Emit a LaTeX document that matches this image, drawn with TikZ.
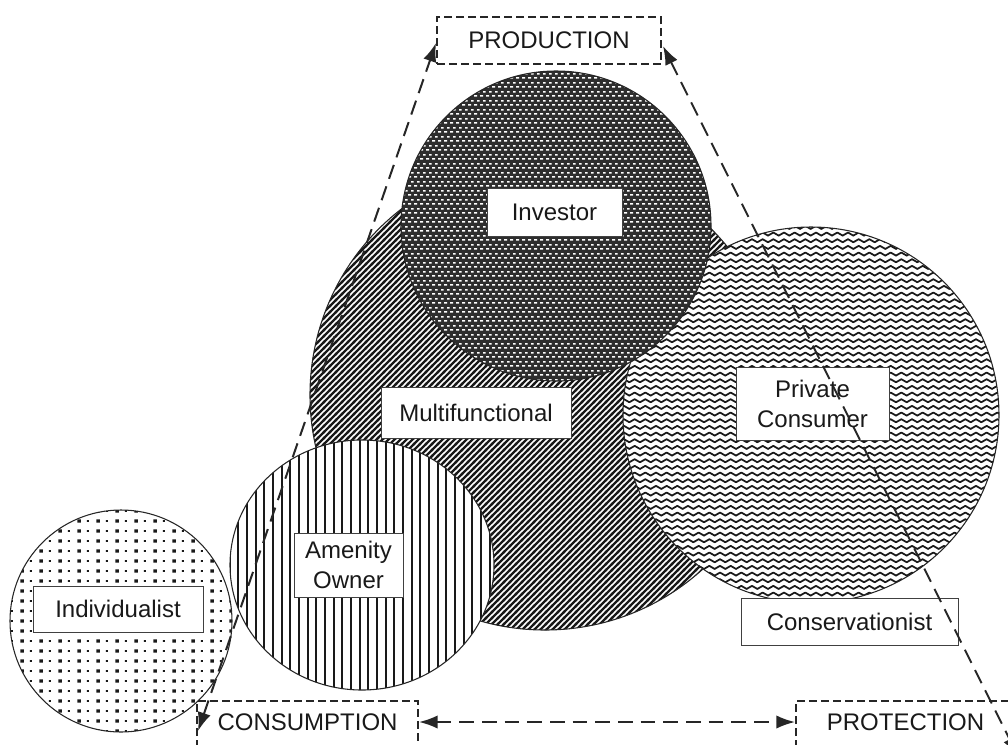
\documentclass[tikz,border=0pt]{standalone}
\usepackage{fontspec}
\setmainfont{Liberation Sans}
\usetikzlibrary{patterns,arrows.meta}

% diagonal lines (Multifunctional)
\pgfdeclarepatternformonly{mflines}{\pgfpoint{-1pt}{-1pt}}{\pgfpoint{5.5pt}{5.5pt}}{\pgfpoint{4.5pt}{4.5pt}}{%
  \pgfsetlinewidth{1.6pt}%
  \pgfpathmoveto{\pgfpoint{-1pt}{-1pt}}\pgfpathlineto{\pgfpoint{5.5pt}{5.5pt}}\pgfusepath{stroke}}
% staggered short dashes (Investor)
\pgfdeclarepatternformonly{idash}{\pgfpointorigin}{\pgfpoint{4.8pt}{6.4pt}}{\pgfpoint{4.8pt}{6.4pt}}{%
  \pgfpathrectangle{\pgfpoint{0.2pt}{1.0pt}}{\pgfpoint{2.3pt}{1.2pt}}%
  \pgfpathrectangle{\pgfpoint{2.6pt}{4.2pt}}{\pgfpoint{2.1pt}{1.2pt}}%
  \pgfusepath{fill}}
% zigzag waves (Private Consumer)
\pgfdeclarepatternformonly{zwaves}{\pgfpoint{-0.7pt}{0pt}}{\pgfpoint{8.7pt}{5pt}}{\pgfpoint{8pt}{5pt}}{%
  \pgfsetlinewidth{1.3pt}\pgfsetroundjoin\pgfsetroundcap
  \pgfpathmoveto{\pgfpoint{0pt}{1.3pt}}\pgfpathlineto{\pgfpoint{4pt}{3.6pt}}\pgfpathlineto{\pgfpoint{8pt}{1.3pt}}%
  \pgfusepath{stroke}}
% vertical lines (Amenity Owner)
\pgfdeclarepatternformonly{vlines}{\pgfpoint{0pt}{-1pt}}{\pgfpoint{6.5pt}{1pt}}{\pgfpoint{6.5pt}{2pt}}{%
  \pgfpathrectangle{\pgfpoint{2.5pt}{-1pt}}{\pgfpoint{1.5pt}{2pt}}\pgfusepath{fill}}
% dots (Individualist)
\pgfdeclarepatternformonly{sqdots}{\pgfpointorigin}{\pgfpoint{14pt}{7.5pt}}{\pgfpoint{14pt}{7.5pt}}{%
  \pgfpathrectangle{\pgfpoint{1pt}{2pt}}{\pgfpoint{2.7pt}{2.7pt}}%
  \pgfpathrectangle{\pgfpoint{8.2pt}{2.5pt}}{\pgfpoint{1.6pt}{1.6pt}}%
  \pgfusepath{fill}}

\begin{document}
\begin{tikzpicture}[x=0.75pt,y=-0.75pt,
  lbl/.style={draw=black!75, line width=0.6pt, fill=white, text=black!90,
    font=\fontsize{18}{22.5}\selectfont, align=center, inner sep=0pt},
  captxt/.style={text=black!90, font=\fontsize{18}{22.5}\selectfont, inner sep=0pt},
  dbox/.style={draw=black!85, line width=0.9pt, dash pattern=on 6pt off 3pt},
  darrow/.style={draw=black!85, line width=1.5pt, dash pattern=on 11pt off 6pt,
    {Latex[length=14pt,width=10pt]}-{Latex[length=14pt,width=10pt]}},
  outl/.style={draw=black!85, line width=0.8pt}]
\useasboundingbox (0,0) rectangle (1008,744);
\clip (0,0) rectangle (1008,744);

% Multifunctional
\path[pattern=mflines, pattern color=black!90] (545,395) circle [radius=235];
\draw[outl] (545,395) circle [radius=235];
% Private Consumer
\fill[white] (811,415) circle [radius=188];
\path[pattern=zwaves, pattern color=black!90] (811,415) circle [radius=188];
\draw[outl] (811,415) circle [radius=188];
% Investor
\fill[black!82] (556,226) circle [radius=155];
\path[pattern=idash, pattern color=white] (556,226) circle [radius=155];
\draw[outl] (556,226) circle [radius=155];
% Amenity Owner
\fill[white] (362,565) ellipse [x radius=132, y radius=125];
\path[pattern=vlines, pattern color=black!90] (362,565) ellipse [x radius=132, y radius=125];
\draw[outl] (362,565) ellipse [x radius=132, y radius=125];
% Individualist
\fill[white] (121,621) circle [radius=111];
\path[pattern=sqdots, pattern color=black!90] (121,621) circle [radius=111];
\draw[outl] (121,621) circle [radius=111];

% labels
\node[lbl, minimum width=101.25pt, minimum height=36pt] (inv) at (554.5,212) {Investor};
\node[lbl, minimum width=142.5pt, minimum height=38.25pt] (multi) at (476,412.5) {Multifunctional};
\node[lbl, minimum width=114.75pt, minimum height=54.75pt] (priv) at (812.5,403.5) {Private\\Consumer};
\node[lbl, minimum width=81.75pt, minimum height=48pt] (amen) at (348.5,565) {Amenity\\Owner};
\node[lbl, minimum width=127.5pt, minimum height=34.5pt] (indiv) at (118,609) {Individualist};
\node[lbl, minimum width=162.75pt, minimum height=35.25pt] (cons) at (849.5,621.5) {Conservationist};

% orientation boxes
\node[dbox, captxt, minimum width=168pt, minimum height=35.25pt] (prod) at (549,40.5) {PRODUCTION};
\node[captxt] (consump) at (307.5,722) {CONSUMPTION};
\node[captxt] (protect) at (905.5,722) {PROTECTION};
\draw[dbox] (197,760) |- (418,701) -- (418,760);
\draw[dbox] (796,760) |- (1012,701);

% connectors
\coordinate (prodL) at (436,43);
\coordinate (prodR) at (663,46);
\coordinate (consTL) at (198,731);
\coordinate (consR) at (419,722);
\coordinate (protL) at (795,722);
\coordinate (protR) at (1018,756);
\draw[darrow] (consTL) -- (prodL);
\draw[darrow] (prodR) -- (protR);
\draw[darrow] (consR) -- (protL);
\end{tikzpicture}
\end{document}
